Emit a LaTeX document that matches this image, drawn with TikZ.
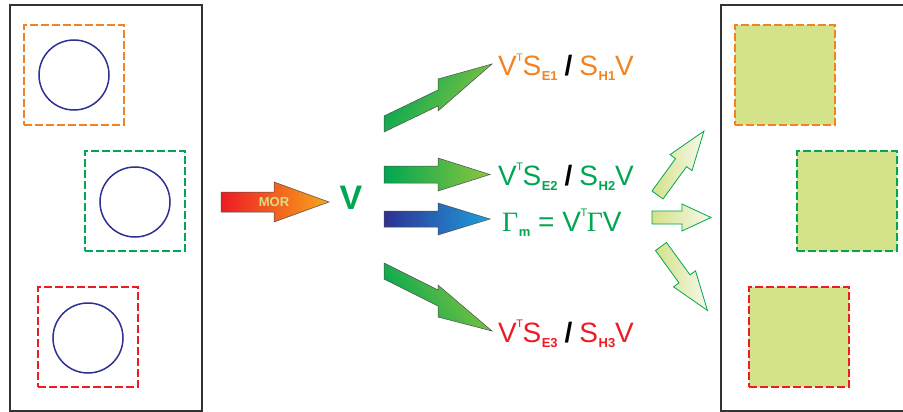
\documentclass[tikz,border=0pt]{standalone}
\usepackage{fontspec}
\setmainfont{Liberation Sans}
\newfontfamily\serifG{Liberation Serif}
\definecolor{dgreen}{HTML}{00A651}
\definecolor{lgreen}{HTML}{8DC63F}
\definecolor{orng}{HTML}{F58220}
\definecolor{rd}{HTML}{ED1C24}
\definecolor{navy}{HTML}{2E3192}
\definecolor{cyanb}{HTML}{1E9FDC}
\definecolor{pale}{HTML}{D4E28A}
\definecolor{paletip}{HTML}{F6F9EA}
\definecolor{framec}{HTML}{333333}
\definecolor{morarr}{HTML}{F7A51C}
\definecolor{mortext}{HTML}{D7DF82}
\newcommand{\supT}{\kern-0.5pt\raisebox{14.5pt}{\fontsize{11}{11}\selectfont T}\kern-0.5pt}
\newcommand{\subb}[1]{\kern0.5pt\raisebox{-5pt}{\fontsize{13}{13}\selectfont\bfseries #1}}
\newcommand{\slsh}{\kern7pt{\color{black}\bfseries /}\kern7pt}
\begin{document}
\begin{tikzpicture}[x=1pt,y=-1pt,
  framebox/.style={draw=framec, line width=2pt},
  dashbox/.style={dash pattern=on 8pt off 3pt, line width=2pt, minimum size=100pt, inner sep=0pt},
  ring/.style={circle, draw=navy, line width=1.5pt, minimum size=70pt, inner sep=0pt},
  darkarrow/.style={draw=black!70, line width=0.5pt},
  lightarrow/.style={draw=dgreen, line width=0.8pt, left color=pale, right color=paletip},
  formula/.style={anchor=base west, inner sep=0pt, font=\fontsize{28}{30}\selectfont},
]
\clip (0,0) rectangle (903,412);
\fill[white] (0,0) rectangle (903,412);

% left frame
\draw[framebox] (10,5) rectangle (202,411);
\node[dashbox, draw=orng] (lb1) at (74,75) {};
\node[ring] (c1) at (74,75) {};
\node[dashbox, draw=dgreen] (lb2) at (135,201) {};
\node[ring] (c2) at (135,202) {};
\node[dashbox, draw=rd] (lb3) at (88,337) {};
\node[ring] (c3) at (88,338) {};

% right frame
\draw[framebox] (910,5) -- (721,5) -- (721,411) -- (910,411);
\node[dashbox, draw=orng, fill=pale] (rb1) at (785,75) {};
\node[dashbox, draw=dgreen, fill=pale] (rb2) at (847,201) {};
\node[dashbox, draw=rd, fill=pale] (rb3) at (799,337) {};

% MOR arrow
\shade[darkarrow, left color=rd, right color=morarr]
  (221,192) -- (274,192) -- (274,182) -- (329,202) -- (274,222) -- (274,212) -- (221,212) -- cycle;
\node[font=\fontsize{13}{13}\selectfont\bfseries, text=mortext] (mor) at (274,202) {MOR};
\node[font=\fontsize{34}{34}\selectfont\bfseries, text=dgreen] (v) at (351,198) {V};

% dark arrows
\shade[darkarrow, left color=dgreen, right color=lgreen, shading angle=60]
  (384,116) -- (438,90) -- (438,79) -- (492,64) -- (438,111) -- (438,106) -- (384,132) -- cycle;
\shade[darkarrow, left color=dgreen, right color=lgreen]
  (384,166) -- (438,166) -- (438,158) -- (490,174.5) -- (438,191) -- (438,183) -- (384,183) -- cycle;
\shade[darkarrow, left color=navy, right color=cyanb]
  (384,211) -- (438,211) -- (438,203) -- (490,219) -- (438,235) -- (438,227) -- (384,227) -- cycle;
\shade[darkarrow, left color=dgreen, right color=lgreen, shading angle=120]
  (384,263) -- (438,290) -- (438,285) -- (492,331) -- (438,317) -- (438,306) -- (384,279) -- cycle;

% formulas
\node[formula, text=orng] (f1) at (498,76) {V\supT S\subb{E1}\slsh S\subb{H1}V};
\node[formula, text=dgreen] (f2) at (498,185) {V\supT S\subb{E2}\slsh S\subb{H2}V};
\node[formula, text=dgreen] (f3) at (502,231) {{\serifG Γ}\subb{m} = V\supT{\serifG Γ}V};
\node[formula, text=rd] (f4) at (498,342) {V\supT S\subb{E3}\slsh S\subb{H3}V};

% light arrows
\begin{scope}[shift={(657.5,195)}, rotate=54]
\path[lightarrow] (0,-6.8) -- (40,-6.8) -- (40,-13.6) -- (79,0) -- (40,13.6) -- (40,6.8) -- (0,6.8) -- cycle;
\end{scope}
\path[lightarrow] (652,211) -- (682,211) -- (682,204) -- (711,217.5) -- (682,231) -- (682,224) -- (652,224) -- cycle;
\begin{scope}[shift={(661,246.5)}, rotate=-54]
\path[lightarrow] (0,-6.8) -- (40,-6.8) -- (40,-13.6) -- (79,0) -- (40,13.6) -- (40,6.8) -- (0,6.8) -- cycle;
\end{scope}
\end{tikzpicture}
\end{document}
